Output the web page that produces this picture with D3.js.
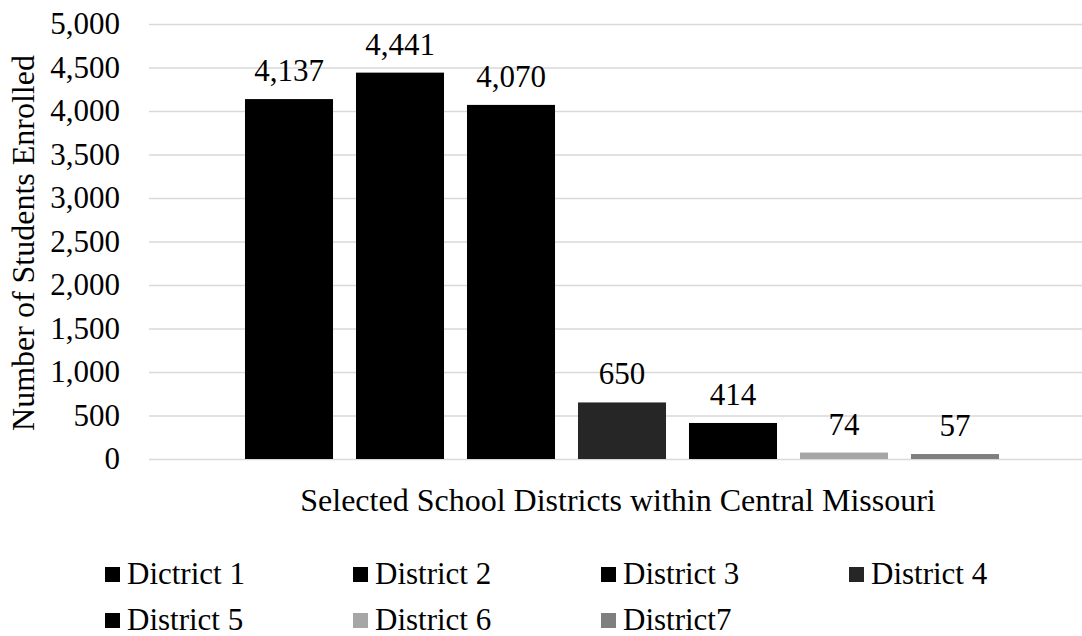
<!DOCTYPE html>
<html>
<head>
<meta charset="utf-8">
<title>Students enrolled by district</title>
<script src="https://cdn.jsdelivr.net/npm/d3@7"></script>
<style>
  body { margin: 0; background: #fff; }
  .grid line { stroke: #d9d9d9; stroke-width: 1.5; }
  .grid .domain { display: none; }
  .yaxis .domain, .yaxis line { display: none; }
</style>
</head>
<body>
<svg id="chart" width="1082" height="636" font-family="Liberation Serif" font-size="31"></svg>
<script>
// data
var districts = ["Dictrict 1", "District 2", "District 3", "District 4",
                 "District 5", "District 6", "District7"];
var enrolled = [4137, 4441, 4070, 650, 414, 74, 57];
var colors = ["#000000", "#000000", "#000000", "#262626",
              "#000000", "#a6a6a6", "#7f7f7f"];
var yTicks = [0, 500, 1000, 1500, 2000, 2500, 3000, 3500, 4000, 4500, 5000];

var width = 1082, height = 636;
var fontSize = 31,
    titleSize = 32;
var serif = "Liberation Serif";

var svg = d3.select("#chart");

var x = d3.scaleBand()
          .domain(districts)
          .range([233.5, 1010.5])
          .paddingInner(0.207)
          .paddingOuter(0.1035);

var y = d3.scaleLinear()
          .domain([0, 5000])
          .range([459, 24]);

var fmt = d3.format(",");

/* gridlines */
svg.append("g")
   .attr("class", "grid")
   .attr("transform", "translate(149,0)")
   .call(d3.axisLeft(y).tickValues(yTicks).tickSize(-(width - 149)).tickFormat(""));

/* y tick labels */
svg.append("g")
   .attr("class", "yaxis")
   .attr("transform", "translate(120,0)")
   .call(d3.axisLeft(y).tickValues(yTicks).tickSize(0).tickPadding(0).tickFormat(fmt))
   .attr("font-family", serif)
   .attr("font-size", fontSize)
   .selectAll("text")
   .attr("fill", "#000")
   .attr("dy", "0.32em");

/* bars */
var data = districts.map(function(d, i) {
  return {name: d, value: enrolled[i], color: colors[i]};
});

svg.append("g").selectAll("rect")
   .data(data)
   .enter().append("rect")
   .attr("x", function(d) { return x(d.name); })
   .attr("width", x.bandwidth())
   .attr("y", function(d) { return y(d.value); })
   .attr("height", function(d) { return y(0) - y(d.value); })
   .attr("fill", function(d) { return d.color; });

/* value labels */
svg.append("g").selectAll("text")
   .data(data)
   .enter().append("text")
   .attr("x", function(d) { return x(d.name) + x.bandwidth() / 2; })
   .attr("y", function(d) { return y(d.value) - 18; })
   .attr("text-anchor", "middle")
   .text(function(d) { return fmt(d.value); });

/* axis titles */
svg.append("text")
   .attr("x", 618)
   .attr("y", 511)
   .attr("text-anchor", "middle")
   .attr("font-size", titleSize)
   .text("Selected School Districts within Central Missouri");

svg.append("text")
   .attr("transform", "translate(34,243) rotate(-90)")
   .attr("text-anchor", "middle")
   .attr("font-size", titleSize)
   .text("Number of Students Enrolled");

/* legend: 4 per row */
var legend = svg.append("g").selectAll("g")
                .data(data)
                .enter().append("g")
                .attr("transform", function(d, i) {
                  return "translate(" + (105 + (i % 4) * 248) + "," + (584 + Math.floor(i / 4) * 46) + ")";
                });

legend.append("rect")
      .attr("x", 0)
      .attr("y", -17)
      .attr("width", 15)
      .attr("height", 15)
      .attr("fill", function(d) { return d.color; });

legend.append("text")
      .attr("x", 22)
      .attr("y", 0)
      .text(function(d) { return d.name; });
</script>
</body>
</html>
